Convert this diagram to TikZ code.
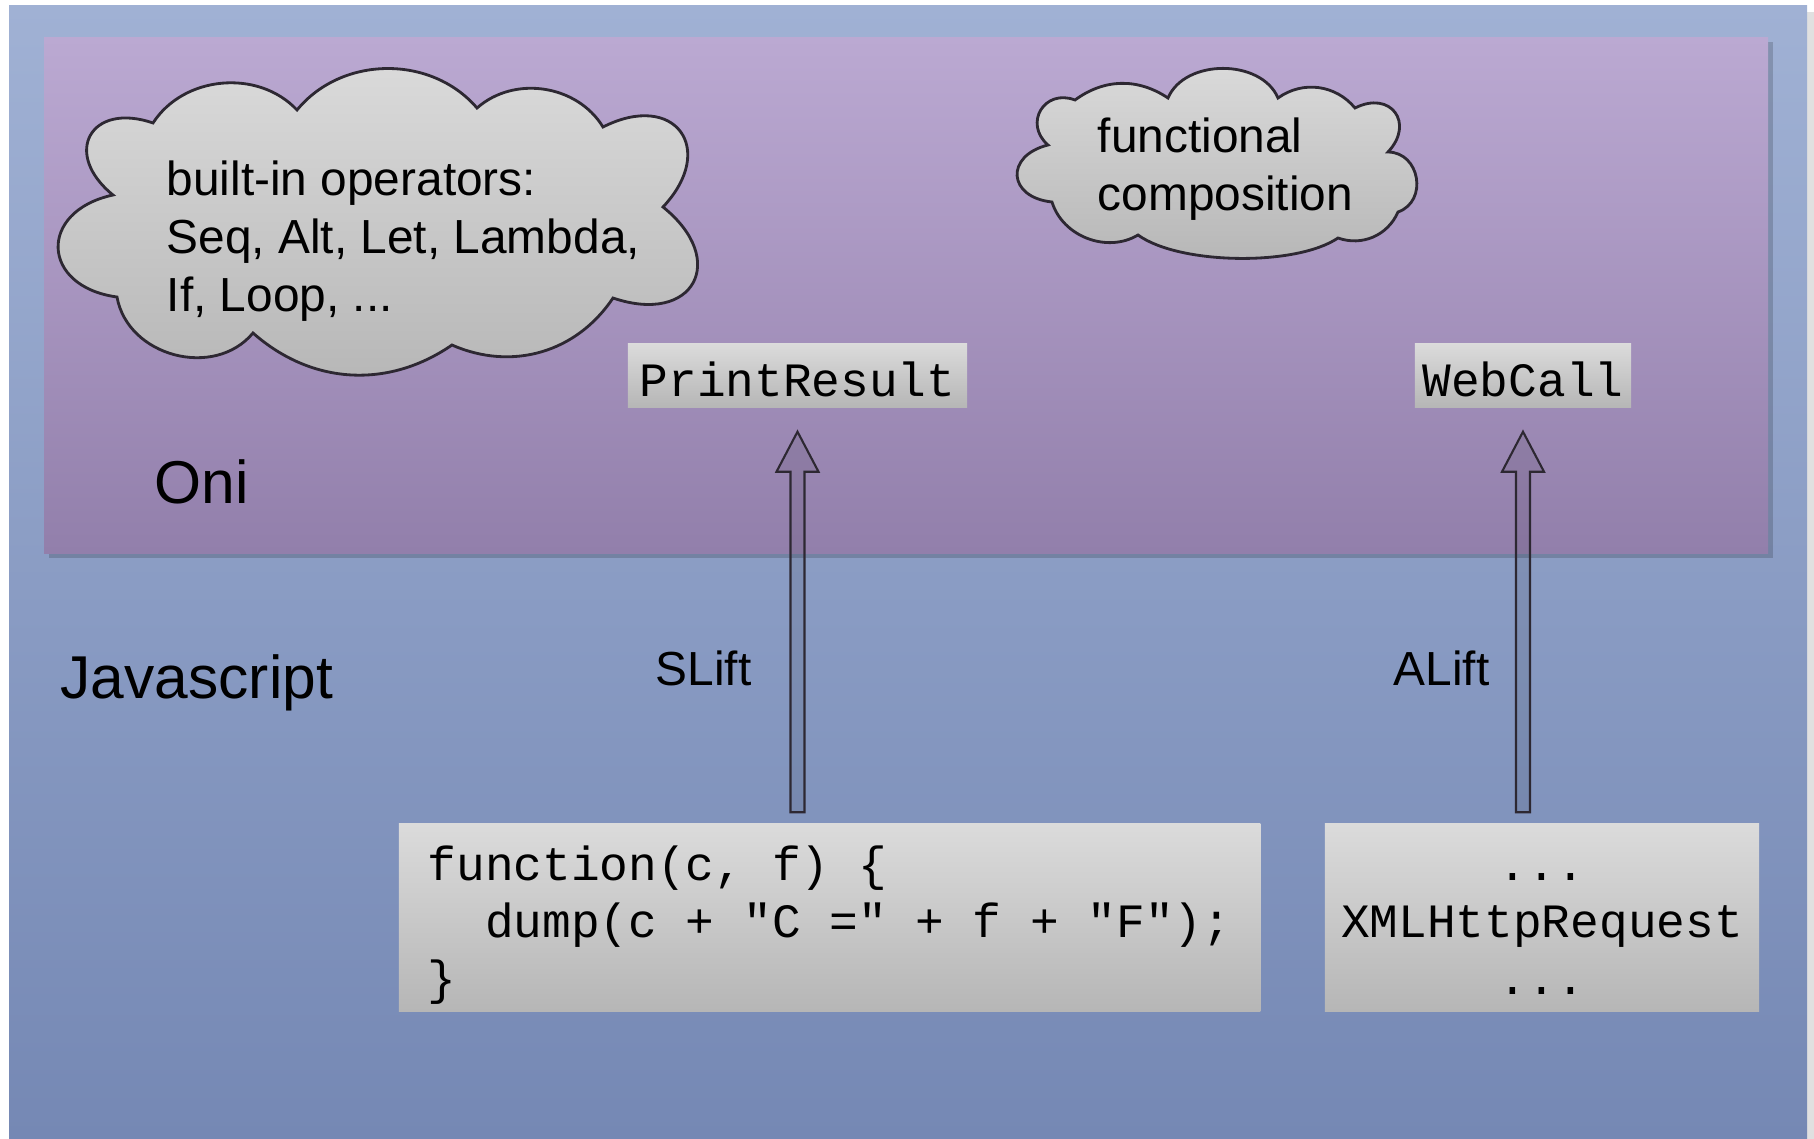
\documentclass[tikz,border=0pt]{standalone}
\usepackage{fontspec}
\setmainfont{Liberation Sans}
\setmonofont{Liberation Mono}
\usetikzlibrary{calc,positioning}

\definecolor{jsTop}{RGB}{160,177,212}
\definecolor{jsBot}{RGB}{117,136,180}
\definecolor{oniTop}{RGB}{187,169,210}
\definecolor{oniBot}{RGB}{146,127,171}
\definecolor{boxTop}{RGB}{219,219,219}
\definecolor{boxBot}{RGB}{182,182,182}
\definecolor{edge}{RGB}{45,40,50}

\begin{document}
\begin{tikzpicture}[
    x=0.01cm, y=-0.01cm,
    every node/.style={font=\fontsize{13.6}{16.5}\selectfont, inner sep=0pt},
    codebox/.style={top color=boxTop, bottom color=boxBot,
                    font=\ttfamily\fontsize{13.6}{16.2}\selectfont},
    cloudy/.style={draw=edge, line width=0.8pt, line join=miter,
                   top color=boxTop, bottom color=boxBot},
    puff/.style={bend left=#1},
    bigpuff/.style={bend left=80, looseness=#1},
    tag/.style={font=\fontsize{17.2}{20}\selectfont, anchor=base west},
    % hollow block arrow lifting a JS function up into Oni
    lift/.style={draw=edge, line width=0.6pt, fill=black, fill opacity=0.08,
      to path={($(\tikztostart -| \tikztotarget)+(-7,-11)$)
        -- ($(\tikztotarget)+(-7,64)$) -- ($(\tikztotarget)+(-21,64)$)
        -- ($(\tikztotarget)+(0,24)$)
        -- ($(\tikztotarget)+(21,64)$) -- ($(\tikztotarget)+(7,64)$)
        -- ($(\tikztostart -| \tikztotarget)+(7,-11)$) -- cycle}},
  ]
    \useasboundingbox (0,0) rectangle (1814,1139);

    % --- Javascript layer ---
    \fill[white] (0,0) rectangle (1814,1139);
    \fill[black!12] (16,12) rectangle (1814,1139);
    \shade[top color=jsTop, bottom color=jsBot] (9,5) rectangle (1807,1139);

    % --- Oni layer ---
    \fill[black, opacity=0.17] (49,42) rectangle (1773,558);
    \shade[top color=oniTop, bottom color=oniBot] (44,37) rectangle (1768,553);

    % --- Clouds ---
    \draw[cloudy] (153,123) to[puff=52] (297,110) to[puff=50] (477,108)
      to[puff=50] (603,127) to[bigpuff=2.05] (663,207) to[bigpuff=2.1] (613,298)
      to[puff=40] (452,345) to[puff=38] (253,333) to[puff=65, looseness=1.1] (117,297)
      to[bigpuff=1.93] (113,195) to[bigpuff=2.05] (153,123) -- cycle;
    \node[anchor=north west, align=left] (ops) at (166,160)
      {built-in operators:\\Seq, Alt, Let, Lambda,\\If, Loop, ...};

    \draw[cloudy] (1075,100) to[puff=35] (1168,98) to[puff=67] (1278,98)
      to[puff=43] (1355,108) to[bigpuff=1.85] (1388,152) to[bigpuff=1.35] (1398,212)
      to[puff=43] (1338,238) to[puff=35, looseness=0.65] (1138,235) to[puff=52] (1052,202)
      to[bigpuff=2] (1048,145) to[bigpuff=1.6] (1075,100) -- cycle;
    \node[anchor=north west, align=left] (comp) at (1097,117) {functional\\composition};

    % --- Oni combinators ---
    \node[codebox, text height=12pt, text depth=0pt,
          minimum width=3.39cm, minimum height=0.63cm] (print) at (797.5,375.5) {PrintResult};
    \node[codebox, text height=12pt, text depth=0pt,
          minimum width=2.16cm, minimum height=0.63cm] (webcall) at (1523,375.5) {WebCall};

    % --- Javascript code ---
    \node[codebox, align=left, text height=44pt, text depth=0pt,
          minimum width=8.61cm, minimum height=1.87cm] (fn) at (829.5,917.5)
      {function(c, f) \{\\\phantom{xx}dump(c + "C =" + f + "F");\\\}};
    \node[codebox, align=center, text height=44pt, text depth=0pt,
          minimum width=4.34cm, minimum height=1.87cm] (xhr) at (1542,917.5)
      {...\\XMLHttpRequest\\...};

    % --- Layer labels ---
    \node[tag] (oni) at (154,503) {Oni};
    \node[tag] (js)  at (60,698)  {Javascript};
    \node[anchor=base west] (slift) at (655,685)  {SLift};
    \node[anchor=base west] (alift) at (1393,685) {ALift};

    % --- Lifting arrows ---
    \draw[lift] (fn.north)  to (print.south);
    \draw[lift] (xhr.north) to (webcall.south);
\end{tikzpicture}
\end{document}
